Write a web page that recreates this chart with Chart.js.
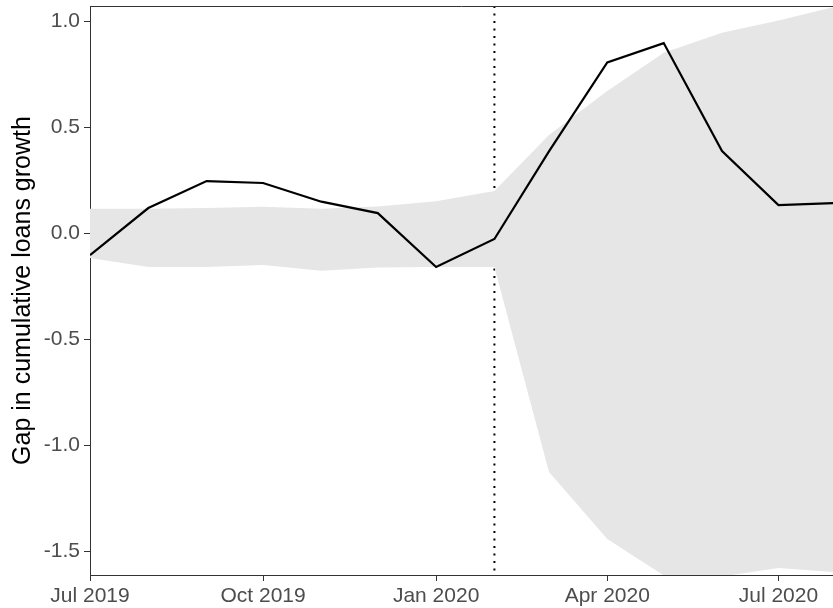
<!DOCTYPE html>
<html>
<head>
<meta charset="utf-8">
<script src="https://cdn.jsdelivr.net/npm/chart.js@4.4.1/dist/chart.umd.min.js"></script>
<style>
  html, body { margin: 0; padding: 0; background: #ffffff; overflow: hidden; }
  #wrap { width: 833px; height: 608px; }
</style>
</head>
<body>
<div id="wrap"><canvas id="c" width="833" height="608"></canvas></div>
<script>
// ---- data (monthly, first of month) ----
const monthDates = ["2019-07-01","2019-08-01","2019-09-01","2019-10-01","2019-11-01","2019-12-01",
                    "2020-01-01","2020-02-01","2020-03-01","2020-04-01","2020-05-01","2020-06-01",
                    "2020-07-01","2020-08-01"];
const gapValues = [-0.104, 0.118, 0.245, 0.236, 0.148, 0.094, -0.160, -0.028,
                   0.385, 0.805, 0.896, 0.387, 0.132, 0.142];
const bandUpper = [0.115, 0.115, 0.118, 0.124, 0.115, 0.125, 0.150, 0.198,
                   0.462, 0.670, 0.850, 0.945, 1.003, 1.070];
const bandLower = [-0.118, -0.160, -0.160, -0.151, -0.178, -0.162, -0.160, -0.160,
                   -1.127, -1.443, -1.615, -1.620, -1.580, -1.600];
const xTickDates = ["2019-07-01","2019-10-01","2020-01-01","2020-04-01","2020-07-01"];
const xTickLabels = ["Jul 2019","Oct 2019","Jan 2020","Apr 2020","Jul 2020"];
const xEndDate = "2020-07-30";
const yTickValues = [-1.5, -1.0, -0.5, 0.0, 0.5, 1.0];
const eventDate = "2020-02-01";  // dotted vertical line
const refValue = 0;              // dashed horizontal line
const yTitle = "Gap in cumulative loans growth";

// days since the first month (time axis without a date adapter)
const t0 = Date.parse(monthDates[0] + "T00:00:00Z");
const dayOf = d => Math.round((Date.parse(d + "T00:00:00Z") - t0) / 86400000);
const toPoints = arr => arr.map((v, i) => ({ x: dayOf(monthDates[i]), y: v }));
const xTickPos = xTickDates.map(dayOf);

const refLines = {
  id: 'refLines',
  beforeDatasetsDraw(chart) {
    const { ctx, chartArea: a, scales: { x, y } } = chart;
    ctx.save();
    ctx.beginPath();
    ctx.rect(a.left, a.top, a.right - a.left, a.bottom - a.top);
    ctx.clip();
    ctx.strokeStyle = '#000000';
    ctx.lineWidth = 1.6;
    const y0 = y.getPixelForValue(refValue);
    ctx.setLineDash([9, 7]);
    ctx.beginPath();
    ctx.moveTo(a.left, y0);
    ctx.lineTo(a.right, y0);
    ctx.stroke();
    const xe = x.getPixelForValue(dayOf(eventDate));
    ctx.lineWidth = 2;
    ctx.setLineDash([2, 5.5]);
    ctx.beginPath();
    ctx.moveTo(xe, a.top);
    ctx.lineTo(xe, a.bottom);
    ctx.stroke();
    ctx.restore();
  },
  afterDraw(chart) {
    const { ctx, chartArea: a } = chart;
    ctx.save();
    ctx.strokeStyle = '#333333';
    ctx.lineWidth = 1;
    ctx.beginPath();
    ctx.moveTo(a.left, a.top + 0.5);
    ctx.lineTo(a.right, a.top + 0.5);
    ctx.stroke();
    ctx.restore();
  }
};

const tickFont = { family: "'Liberation Sans', Arial, sans-serif", size: 21 };

new Chart(document.getElementById('c'), {
  type: 'line',
  data: {
    datasets: [
      {
        label: 'gap',
        data: toPoints(gapValues),
        borderColor: '#000000',
        borderWidth: 2.2,
        pointRadius: 0,
        fill: false,
        tension: 0
      },
      {
        label: 'lower',
        data: toPoints(bandLower),
        borderWidth: 0,
        borderColor: 'rgba(0,0,0,0)',
        pointRadius: 0,
        fill: false,
        tension: 0
      },
      {
        label: 'upper',
        data: toPoints(bandUpper),
        borderWidth: 0,
        borderColor: 'rgba(0,0,0,0)',
        backgroundColor: '#e6e6e6',
        pointRadius: 0,
        fill: '-1',
        tension: 0
      }
    ]
  },
  options: {
    responsive: false,
    animation: false,
    devicePixelRatio: 1,
    layout: { padding: { top: 6, right: 0, left: 0, bottom: 0 } },
    plugins: { legend: { display: false }, tooltip: { enabled: false } },
    scales: {
      x: {
        type: 'linear',
        min: 0,
        max: dayOf(xEndDate),
        afterBuildTicks: s => { s.ticks = xTickPos.map(v => ({ value: v })); },
        afterFit: s => { s.height = 33; s.paddingLeft = 0; s.paddingRight = 0; },
        grid: { drawOnChartArea: false, drawTicks: true, tickLength: 6, tickColor: '#333333', tickWidth: 1 },
        border: { display: true, color: '#333333', width: 1 },
        ticks: {
          autoSkip: false, maxRotation: 0, padding: 3,
          color: '#4d4d4d', font: tickFont,
          callback: v => xTickLabels[xTickPos.indexOf(v)]
        }
      },
      y: {
        type: 'linear',
        min: -1.613,
        max: 1.071,
        afterBuildTicks: s => { s.ticks = yTickValues.map(v => ({ value: v })); },
        afterFit: s => { s.width = 90; s.paddingTop = 0; s.paddingBottom = 0; },
        grid: { drawOnChartArea: false, drawTicks: true, tickLength: 6, tickColor: '#333333', tickWidth: 1 },
        border: { display: true, color: '#333333', width: 1 },
        ticks: {
          padding: 4, color: '#4d4d4d', font: tickFont,
          callback: v => v.toFixed(1)
        },
        title: {
          display: true, text: yTitle, color: '#000000',
          font: { family: "'Liberation Sans', Arial, sans-serif", size: 25 },
          padding: { top: 8, bottom: 0 }
        }
      }
    }
  },
  plugins: [refLines]
});
</script>
</body>
</html>
